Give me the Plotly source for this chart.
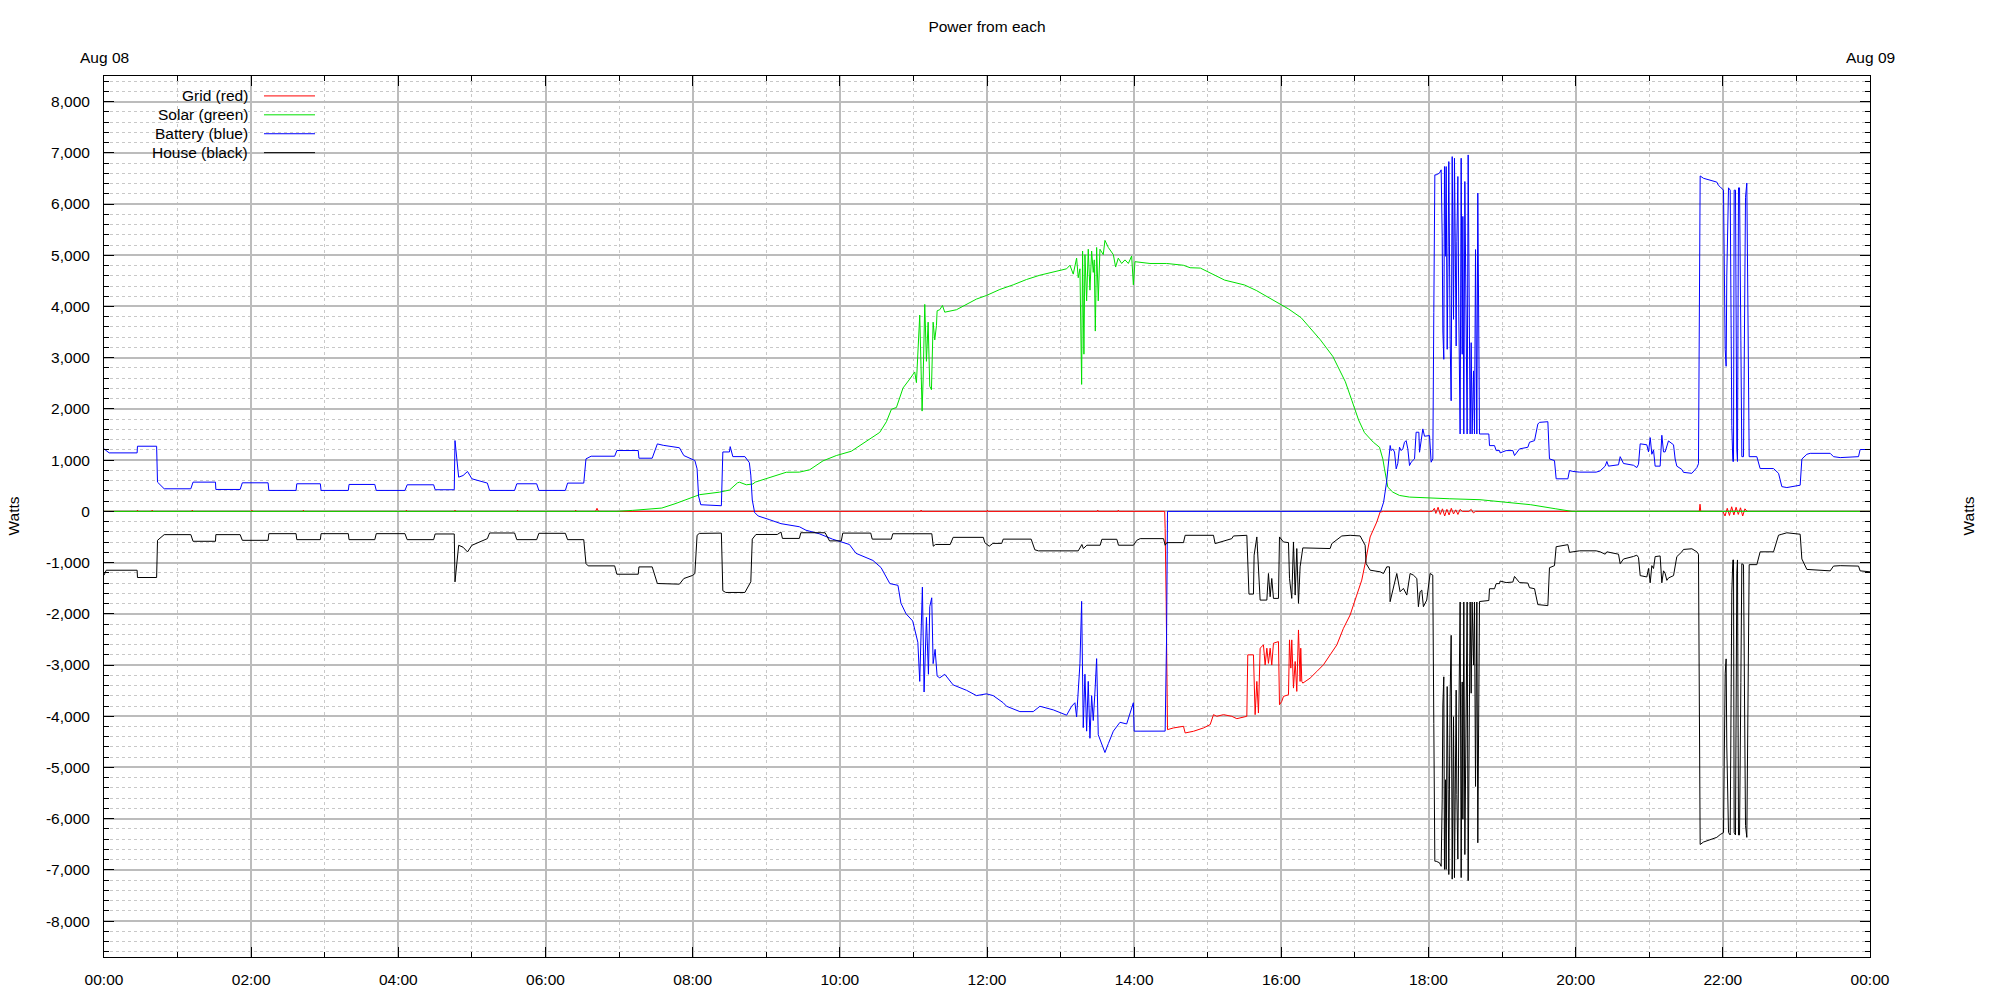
import pandas as pd
import plotly.graph_objects as go

# ---------------- data (hours since midnight Aug 08, watts) ----------------
series_names = ["Grid (red)", "Solar (green)", "Battery (blue)", "House (black)"]
series_colors = ["#ff0000", "#00e000", "#0000ff", "#000000"]

grid_t = [0, 0.45, 0.455, 0.46, 0.65, 0.655, 0.66, 1.195, 1.2, 1.205, 2.005, 2.01, 2.015,
          2.705, 2.71, 2.715, 4.105, 4.11, 4.115, 4.765, 4.77, 4.775, 5.615, 5.62, 5.625,
          6.405, 6.41, 6.415, 6.68, 6.70, 6.72, 11.1, 11.105, 11.11, 12.0, 12.005, 12.01,
          13.5, 13.505, 13.51, 13.78, 13.785, 13.79,
          14.415, 14.421, 14.435, 14.453, 14.534, 14.67, 14.693, 14.806, 14.942, 15.033,
          15.078, 15.123, 15.214, 15.327, 15.395, 15.531, 15.544, 15.621, 15.644, 15.667,
          15.689, 15.712, 15.757, 15.78, 15.803, 15.825, 15.848, 15.87, 15.893, 15.961,
          15.975, 16.006, 16.029, 16.097, 16.111, 16.129, 16.142, 16.165, 16.188, 16.21,
          16.233, 16.255, 16.264, 16.278, 16.292, 16.391, 16.482, 16.572, 16.663, 16.754,
          16.844, 16.935, 17.025, 17.093, 17.139, 17.207, 17.297, 17.342, 17.388,
          18.05, 18.08, 18.1, 18.13, 18.16, 18.19, 18.22, 18.25, 18.28, 18.31, 18.34, 18.37,
          18.4, 18.43, 18.46, 18.55, 18.58, 18.61, 18.64, 21.68, 21.69, 21.70,
          22.0, 22.03, 22.06, 22.09, 22.12, 22.15, 22.18, 22.21, 22.24, 22.27, 22.3, 22.33, 24.0]
grid_w = [0, 0, 25, 0, 0, 25, 0, 0, 25, 0, 0, 25, 0,
          0, 25, 0, 0, 25, 0, 0, 25, 0, 0, 25, 0,
          0, 25, 0, 0, 60, 0, 0, 25, 0, 0, 25, 0,
          0, 25, 0, 0, 25, 0,
          0, -337, -1764, -4261, -4228, -4196, -4326, -4293, -4228, -4163,
          -3969, -4001, -3969, -4001, -4047, -4001, -2801, -2801, -3969, -3320,
          -3937, -2671, -2607, -3000, -2671, -2967, -2671, -3000, -2574, -2542,
          -3774, -3709, -3612, -3580, -2509, -3060, -2509, -3450, -2931, -3515,
          -2315, -3320, -2671, -3320, -3353, -3256, -3126, -2996, -2801, -2607,
          -2283, -2023, -1634, -1342, -1018, -499, -208, -13, 0,
          0, 60, -40, 80, -60, 50, -90, 40, -70, 60, -50, 30,
          -60, 40, 0, 0, 40, -30, 0, 0, 140, 0,
          0, -90, 60, -80, 90, -70, 80, -60, 70, -90, 50, 0, 0]

solar_t = [0, 6.97, 7.18, 7.58, 7.76, 8.0, 8.093, 8.365, 8.48, 8.501, 8.61, 8.637, 8.73, 8.819,
           8.85, 9.0, 9.03, 9.21, 9.272, 9.45, 9.59, 9.771, 9.952, 10.156, 10.406, 10.542,
           10.633, 10.701, 10.769, 10.859, 10.95, 11.018, 11.041, 11.063, 11.086, 11.118,
           11.132, 11.154, 11.177, 11.2, 11.222, 11.245, 11.268, 11.29, 11.313, 11.322,
           11.358, 11.395, 11.426, 11.585, 11.721, 11.857, 11.993, 12.175, 12.356, 12.537,
           12.719, 12.9, 13.082, 13.127, 13.172, 13.218, 13.24, 13.263, 13.286, 13.299,
           13.317, 13.331, 13.354, 13.376, 13.399, 13.422, 13.444, 13.458, 13.472, 13.49,
           13.512, 13.535, 13.58, 13.603, 13.649, 13.717, 13.748, 13.784, 13.83, 13.875,
           13.921, 13.966, 13.989, 14.011, 14.215, 14.442, 14.669, 14.76, 14.9, 15.23,
           15.5, 15.66, 15.92, 16.1, 16.27, 16.53, 16.7, 16.79, 16.87, 16.96, 17.05, 17.13,
           17.25, 17.334, 17.379, 17.402, 17.425, 17.447, 17.515, 17.606, 17.742, 18.014,
           18.29, 18.7, 19.0, 19.39, 19.73, 19.95, 24.0]
solar_w = [0, 0, 19, 65, 149, 279, 326, 375, 409, 417, 558, 569, 519, 535,
           571, 639, 649, 733, 764, 766, 812, 986, 1090, 1174, 1403, 1542,
           1750, 1993, 2028, 2410, 2583, 2722, 2514, 3069, 3833, 1958,
           2583, 4041, 2930, 3694, 2444, 2375, 3694, 3347, 3625, 3916,
           3937, 4020, 3889, 3937, 4041, 4145, 4215, 4333, 4423, 4527,
           4611, 4666, 4736, 4805, 4632, 4944, 4562, 4736, 2479, 5083,
           3069, 5013, 4110, 5118, 4319, 5083, 4666, 4910, 3520, 5152,
           4110, 5118, 5013, 5291, 5152, 5013, 4770, 4944, 4840, 4910,
           4840, 4986, 4423, 4875, 4840, 4840, 4805, 4757, 4750, 4515,
           4420, 4313, 4100, 3950, 3780, 3350, 3025, 2778, 2531, 2158, 1784, 1537,
           1350, 1252, 1025, 830, 636, 473, 376, 311, 279, 259,
           246, 228, 190, 130, 50, 0, 0]

battery_t = [0, 0.07, 0.45, 0.455, 0.715, 0.727, 0.818, 1.18, 1.21, 1.515, 1.52, 1.85, 1.88,
             2.23, 2.24, 2.61, 2.62, 2.94, 2.95, 3.32, 3.33, 3.68, 3.70, 4.09, 4.12, 4.48,
             4.50, 4.76, 4.77, 4.82, 4.88, 4.94, 5.0, 5.21, 5.24, 5.58, 5.61, 5.88, 5.91,
             6.27, 6.30, 6.52, 6.55, 6.62, 6.94, 6.97, 7.26, 7.27, 7.45, 7.52, 7.6, 7.82,
             7.88, 8.03, 8.06, 8.08, 8.11, 8.39, 8.41, 8.5, 8.51, 8.53, 8.546, 8.71, 8.77,
             8.79, 8.81, 8.842, 8.89, 9.04, 9.2, 9.45, 9.54, 9.72, 9.9, 10.13, 10.22, 10.45,
             10.56, 10.68, 10.79, 10.83, 10.9, 10.99, 11.06, 11.086, 11.122, 11.145, 11.177,
             11.204, 11.222, 11.249, 11.268, 11.295, 11.322, 11.358, 11.426, 11.54, 11.721,
             11.857, 11.993, 12.084, 12.22, 12.266, 12.447, 12.628, 12.719, 12.9, 13.082,
             13.15, 13.195, 13.218, 13.263, 13.286, 13.308, 13.331, 13.354, 13.376, 13.399,
             13.422, 13.444, 13.467, 13.49, 13.512, 13.558, 13.603, 13.649, 13.717, 13.807,
             13.898, 13.989, 14.0, 14.08, 14.215, 14.40, 14.421, 14.44, 14.453, 17.35, 17.39,
             17.43, 17.456, 17.479, 17.493, 17.515, 17.538, 17.561, 17.583, 17.606, 17.629,
             17.651, 17.674, 17.696, 17.719, 17.742, 17.764, 17.787, 17.81, 17.832, 17.869,
             17.878, 17.9, 17.923, 17.946, 17.991, 18.014, 18.036, 18.059, 18.072, 18.086,
             18.104, 18.149, 18.172, 18.186, 18.195, 18.208, 18.217, 18.231, 18.24, 18.254,
             18.267, 18.276, 18.294, 18.308, 18.322, 18.34, 18.353, 18.376, 18.385, 18.399,
             18.412, 18.43, 18.444, 18.458, 18.467, 18.48, 18.494, 18.512, 18.525, 18.539,
             18.548, 18.557, 18.566, 18.58, 18.593, 18.612, 18.625, 18.639, 18.648, 18.657,
             18.67, 18.684, 18.693, 18.82, 18.829, 18.897, 18.92, 18.965, 18.974, 19.055,
             19.146, 19.169, 19.237, 19.35, 19.373, 19.441, 19.486, 19.508, 19.622, 19.644,
             19.712, 19.735, 19.894, 19.916, 19.962, 20.052, 20.279, 20.333, 20.401, 20.424,
             20.446, 20.582, 20.605, 20.65, 20.786, 20.831, 20.854, 20.877, 20.967, 20.99,
             21.013, 21.035, 21.058, 21.08, 21.148, 21.171, 21.194, 21.216, 21.239, 21.261,
             21.33, 21.352, 21.375, 21.443, 21.465, 21.579, 21.647, 21.669, 21.692, 21.737,
             21.918, 21.941, 21.964, 22.009, 22.032, 22.045, 22.054, 22.077, 22.1, 22.113,
             22.122, 22.136, 22.145, 22.154, 22.172, 22.19, 22.199, 22.213, 22.227, 22.245,
             22.258, 22.281, 22.29, 22.308, 22.326, 22.335, 22.349, 22.358, 22.462, 22.485,
             22.507, 22.689, 22.757, 22.802, 22.87, 23.051, 23.074, 23.142, 23.187, 23.459,
             23.504, 23.595, 23.844, 23.866, 24.0]
battery_w = [1220, 1142, 1142, 1272, 1272, 571, 441, 441, 571, 571, 428, 428, 558,
             558, 409, 409, 539, 539, 409, 409, 526, 526, 409, 409, 519, 519,
             422, 422, 1382, 668, 700, 779, 636, 552, 409, 409, 539, 539, 409,
             409, 552, 552, 1025, 1077, 1077, 1188, 1188, 1038, 1038, 1317, 1290, 1242,
             1090, 993, 830, 300, 130, 110, 1160, 1160, 1264, 1160, 1069, 1069, 951,
             708, 222, -21, -90, -160, -240, -300, -368, -437, -542, -646, -819, -958,
             -1097, -1410, -1444, -1792, -2000, -2139, -2555, -3319, -1479, -3527, -2069,
             -3180, -1861, -1687, -2972, -2694, -3215, -3250, -3180, -3388, -3493,
             -3597, -3562, -3597, -3736, -3805, -3909, -3909, -3805, -3875, -3979,
             -3805, -3736, -4013, -2972, -1757, -4222, -3180, -4291, -3319, -4430,
             -3597, -4083, -3527, -2875, -4361, -4534, -4708, -4534, -4291, -4118,
             -4150, -3736, -4291, -4291, -4291, -4291, -4290, -2510, 0, 0, 180,
             570, 1025, 1286, 1187, 1220, 1160, 830, 940, 1252, 1187,
             1220, 1349, 1381, 1220, 895, 960, 992, 1025, 1545, 1545,
             1155, 1349, 1610, 1467, 1467, 1480, 960, 1025, 3879, 6570,
             6570, 6603, 6668, 5370, 3522, 2969, 6732, 4981, 6732, 3164,
             5176, 6829, 3359, 2159, 6926, 3749, 6894, 3229, 5273, 6538,
             3814, 1511, 6894, 3067, 5759, 1511, 6440, 2257, 1511, 6959,
             5565, 2776, 1511, 3294, 1511, 2743, 1511, 5111, 2743, 1511,
             6213, 3879, 1511, 1511, 1284, 1284, 1187, 1187, 1142, 1187,
             1187, 1090, 1220, 1252, 1349, 1381, 1705, 1738, 1751, 1025,
             992, 636, 636, 798, 780, 766, 766, 790, 883, 975,
             883, 910, 1068, 935, 900, 855, 920, 1319, 1300, 1161,
             1440, 1115, 1200, 883, 883, 1486, 1161, 1161, 1300, 1375,
             1300, 1022, 883, 818, 762, 743, 855, 930, 6549, 6503,
             6429, 6364, 6336, 6271, 3159, 2833, 4599, 6317, 6271, 2323,
             1672, 975, 975, 6271, 6271, 1208, 975, 6317, 6317, 3344,
             1068, 1068, 3066, 6131, 6410, 5110, 3066, 1068, 1068, 929,
             836, 836, 743, 483, 465, 511, 1022, 1115, 1133, 1133,
             1068, 1050, 1068, 1208, 1208]

house_t = [0, 0.03, 0.45, 0.455, 0.715, 0.727, 0.818, 1.18, 1.21, 1.515, 1.52, 1.85, 1.88,
           2.23, 2.24, 2.61, 2.62, 2.94, 2.95, 3.32, 3.33, 3.68, 3.70, 4.09, 4.12, 4.48,
           4.50, 4.76, 4.77, 4.82, 4.88, 4.94, 5.0, 5.21, 5.24, 5.58, 5.61, 5.88, 5.91,
           6.27, 6.30, 6.52, 6.55, 6.58, 6.94, 6.97, 7.26, 7.27, 7.45, 7.52, 7.82, 7.88,
           8.0, 8.03, 8.06, 8.09, 8.39, 8.41, 8.45, 8.71, 8.79, 8.81, 8.86, 9.15, 9.2, 9.22,
           9.45, 9.47, 9.8, 9.84, 9.86, 10.02, 10.04, 10.42, 10.44, 10.7, 10.72, 11.25,
           11.27, 11.3, 11.5, 11.54, 11.95, 11.97, 12.03, 12.08, 12.2, 12.22, 12.6, 12.65,
           12.7, 13.24, 13.29, 13.31, 13.357, 13.538, 13.561, 13.764, 13.787, 13.991,
           14.036, 14.082, 14.399, 14.421, 14.444, 14.67, 14.693, 15.078, 15.1, 15.327,
           15.35, 15.531, 15.544, 15.56, 15.621, 15.63, 15.667, 15.689, 15.712, 15.803,
           15.825, 15.848, 15.87, 15.893, 15.961, 15.975, 16.029, 16.097, 16.111, 16.142,
           16.165, 16.188, 16.21, 16.233, 16.255, 16.292, 16.482, 16.663, 16.686, 16.822,
           16.935, 17.071, 17.139, 17.152, 17.207, 17.342, 17.388, 17.433, 17.469, 17.478,
           17.569, 17.614, 17.659, 17.705, 17.75, 17.795, 17.841, 17.863, 17.886, 17.909,
           17.931, 17.976, 18.022, 18.058, 18.072, 18.086, 18.104, 18.149, 18.172, 18.186,
           18.195, 18.208, 18.217, 18.231, 18.24, 18.254, 18.267, 18.276, 18.294, 18.308,
           18.322, 18.34, 18.353, 18.376, 18.385, 18.399, 18.412, 18.43, 18.444, 18.458,
           18.467, 18.48, 18.494, 18.512, 18.525, 18.539, 18.548, 18.557, 18.566, 18.58,
           18.593, 18.612, 18.625, 18.639, 18.648, 18.657, 18.67, 18.684, 18.693, 18.82,
           18.829, 18.897, 18.92, 18.965, 18.974, 19.055, 19.146, 19.169, 19.237, 19.35,
           19.373, 19.441, 19.486, 19.622, 19.644, 19.712, 19.735, 19.894, 19.916, 20.052,
           20.279, 20.333, 20.401, 20.424, 20.582, 20.605, 20.65, 20.786, 20.831, 20.854,
           20.877, 20.967, 20.99, 21.013, 21.035, 21.058, 21.08, 21.148, 21.171, 21.194,
           21.216, 21.239, 21.261, 21.33, 21.352, 21.375, 21.443, 21.465, 21.579, 21.647,
           21.669, 21.692, 21.737, 21.918, 21.964, 22.009, 22.032, 22.045, 22.054, 22.077,
           22.1, 22.113, 22.122, 22.136, 22.145, 22.154, 22.172, 22.19, 22.199, 22.213,
           22.227, 22.245, 22.258, 22.281, 22.29, 22.308, 22.326, 22.335, 22.349, 22.358,
           22.462, 22.485, 22.507, 22.689, 22.757, 22.802, 22.87, 23.051, 23.074, 23.142,
           23.459, 23.504, 23.595, 23.844, 23.866, 24.0]
house_w = [-1246, -1149, -1149, -1291, -1291, -565, -454, -454, -584, -584, -454, -454, -565,
           -565, -435, -435, -552, -552, -435, -435, -552, -552, -435, -435, -552, -552,
           -441, -441, -1376, -662, -700, -792, -662, -532, -422, -422, -552, -552, -428,
           -428, -552, -552, -1019, -1064, -1064, -1227, -1227, -1084, -1084, -1408, -1421, -1311,
           -1250, -1214, -467, -430, -424, -1549, -1583, -1583, -1375, -542, -451, -451, -403, -528,
           -528, -417, -417, -528, -576, -576, -424, -424, -542, -542, -437, -437,
           -680, -646, -646, -507, -507, -611, -680, -625, -625, -542, -542, -750,
           -771, -771, -646, -726, -661, -661, -545, -545, -661, -661,
           -564, -532, -532, -661, -610, -610, -467, -467, -629, -532,
           -480, -467, -1051, -1615, -1615, -856, -499, -1245, -1732, -1732,
           -1213, -1667, -1310, -1699, -1699, -499, -597, -610, -1310, -1699,
           -597, -1634, -726, -1796, -1083, -713, -713, -726, -629, -480,
           -467, -480, -661, -1018, -1148, -1180, -1213, -1083, -1083, -1764,
           -1213, -1569, -1504, -1634, -1213, -1245, -1310, -1861, -1569, -1537,
           -1861, -1732, -1213, -1245, -4140, -6830, -6830, -6860, -6930, -5630,
           -3780, -3230, -6990, -5240, -6990, -3420, -5430, -7090, -3620, -2420,
           -7180, -4010, -7150, -3490, -5530, -6790, -4070, -1770, -7150, -3330,
           -6010, -1770, -6700, -2510, -1770, -7210, -5820, -3030, -1770, -3550,
           -1770, -3000, -1770, -5370, -3000, -1770, -6470, -4140, -1760, -1740,
           -1510, -1510, -1410, -1410, -1360, -1390, -1380, -1270, -1390, -1400,
           -1490, -1510, -1820, -1840, -1100, -1060, -690, -650, -800, -770,
           -770, -790, -836, -790, -836, -1022, -930, -880, -855, -900,
           -1254, -1280, -1115, -1394, -1060, -1115, -883, -870, -1394, -1161,
           -1210, -1347, -1300, -1254, -1022, -883, -790, -743, -730, -790,
           -836, -6503, -6456, -6364, -6310, -6271, -3159, -2880, -4599, -6271,
           -6317, -2323, -1579, -948, -948, -6271, -6317, -1208, -948, -6317,
           -6317, -3344, -1022, -1040, -2800, -6131, -6364, -5110, -2900, -1040,
           -1040, -880, -790, -790, -465, -446, -418, -446, -929, -1133,
           -1161, -1068, -1060, -1068, -1161, -1180]

# axis tick labels
y_tick_vals = [-8000, -7000, -6000, -5000, -4000, -3000, -2000, -1000, 0,
               1000, 2000, 3000, 4000, 5000, 6000, 7000, 8000]
y_tick_text = ["-8,000", "-7,000", "-6,000", "-5,000", "-4,000", "-3,000", "-2,000", "-1,000", "0",
               "1,000", "2,000", "3,000", "4,000", "5,000", "6,000", "7,000", "8,000"]
y_minor_vals = list(range(-8600, 8500, 200))
y_range = [-8700, 8500]
day_labels = ["Aug 08", "Aug 09"]
title_text = "Power from each"
y_title = "Watts"

BASE = pd.Timestamp("2024-08-08 00:00")


def to_time(hours):
    return BASE + pd.to_timedelta(hours, unit="h")


FONT = "Liberation Sans, Arial, sans-serif"
FS = 15.5

fig = go.Figure()
for name, color, t, w in zip(series_names, series_colors,
                             [grid_t, solar_t, battery_t, house_t],
                             [grid_w, solar_w, battery_w, house_w]):
    fig.add_trace(go.Scatter(x=to_time(t), y=w, mode="lines", name=name,
                             line=dict(color=color, width=1), showlegend=False,
                             hoverinfo="skip"))

grid_major = "#bcbcbc"
grid_minor = "#c8c8c8"

fig.update_layout(
    width=2000, height=1000,
    margin=dict(l=104, r=130, t=76, b=39, pad=0),
    paper_bgcolor="white", plot_bgcolor="white",
    font=dict(family=FONT, size=FS, color="#000000"),
    title=dict(text=title_text, x=0.5, xref="paper", xanchor="center",
               y=1 - 27 / 1000, yref="container", yanchor="middle",
               font=dict(family=FONT, size=FS, color="#000000")),
    xaxis=dict(
        type="date",
        range=[BASE, BASE + pd.Timedelta(hours=24)],
        tickmode="linear", tick0=BASE, dtick=2 * 3600 * 1000,
        tickformat="%H:%M",
        ticks="inside", ticklen=10, tickwidth=1, tickcolor="#000000",
        showline=True, linecolor="#000000", linewidth=1, mirror="ticks",
        showgrid=True, gridcolor=grid_major, gridwidth=2,
        minor=dict(tickmode="linear", tick0=BASE, dtick=3600 * 1000, ticks="inside",
                   ticklen=5, tickcolor="#000000", showgrid=True,
                   gridcolor=grid_minor, gridwidth=1, griddash="3px,3px"),
        zeroline=False, ticklabelstandoff=8,
        tickfont=dict(family=FONT, size=FS, color="#000000"),
    ),
    yaxis=dict(
        range=y_range, tickmode="array", tickvals=y_tick_vals, ticktext=y_tick_text,
        ticks="inside", ticklen=10, tickwidth=1, tickcolor="#000000",
        showline=True, linecolor="#000000", linewidth=1, mirror="ticks",
        showgrid=True, gridcolor=grid_major, gridwidth=2,
        minor=dict(tickmode="array", tickvals=y_minor_vals, ticks="inside",
                   ticklen=5, tickcolor="#000000", showgrid=True,
                   gridcolor=grid_minor, gridwidth=1, griddash="3px,3px"),
        zeroline=False, ticklabelstandoff=10,
        tickfont=dict(family=FONT, size=FS, color="#000000"),
    ),
    yaxis2=dict(
        range=y_range, overlaying="y", side="right", anchor="x",
        tickmode="array", tickvals=y_tick_vals, ticktext=y_tick_text,
        ticks="", showline=False, showgrid=False, zeroline=False,
        ticklabelstandoff=8,
        tickfont=dict(family=FONT, size=FS, color="#000000"),
    ),
    showlegend=False,
)

plot_w = 2000 - 104 - 130
plot_h = 1000 - 76 - 39

annotations = [
    dict(text=day_labels[0], x=0, y=1 + 19 / plot_h, xref="paper", yref="paper",
         xanchor="center", yanchor="middle", showarrow=False,
         font=dict(family=FONT, size=FS, color="#000000")),
    dict(text=day_labels[1], x=1, y=1 + 19 / plot_h, xref="paper", yref="paper",
         xanchor="center", yanchor="middle", showarrow=False,
         font=dict(family=FONT, size=FS, color="#000000")),
    dict(text=y_title, x=(13 - 104) / plot_w, y=0.5, xref="paper", yref="paper",
         xanchor="center", yanchor="middle", textangle=-90, showarrow=False,
         font=dict(family=FONT, size=FS, color="#000000")),
    dict(text=y_title, x=(1968 - 104) / plot_w, y=0.5, xref="paper", yref="paper",
         xanchor="center", yanchor="middle", textangle=-90, showarrow=False,
         font=dict(family=FONT, size=FS, color="#000000")),
]

shapes = [dict(type="rect", xref="paper", yref="paper", x0=0, x1=(323 - 104) / plot_w,
               y0=(961 - 162) / plot_h, y1=1, fillcolor="white", line=dict(width=0),
               layer="between")]

row_px = [96, 115, 134, 153]
for name, color, ypx in zip(series_names, series_colors, row_px):
    yp = (961 - ypx) / plot_h
    annotations.append(dict(text=name, x=(250 - 104) / plot_w, y=yp, xref="paper", yref="paper",
                            xanchor="right", yanchor="middle", showarrow=False,
                            font=dict(family=FONT, size=FS, color="#000000")))
    shapes.append(dict(type="line", xref="paper", yref="paper",
                       x0=(264 - 104) / plot_w, x1=(315 - 104) / plot_w, y0=yp, y1=yp,
                       line=dict(color=color, width=1), layer="above"))

fig.update_layout(annotations=annotations, shapes=shapes)

fig.write_html("out.html", config={"displayModeBar": False},
               post_script="document.body.style.margin='0';document.body.style.overflow='hidden';")
